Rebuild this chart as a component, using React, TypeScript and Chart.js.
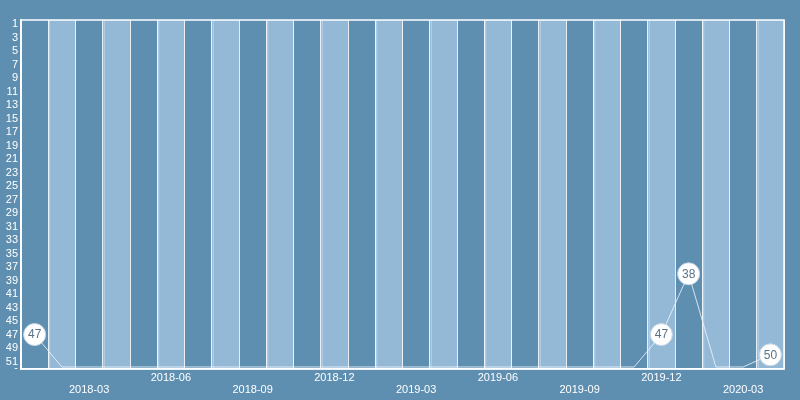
import React, { useEffect, useRef } from "react";
import { Chart, registerables } from "chart.js";

Chart.register(...registerables);

const months: string[] = [
  "2018-01", "2018-02", "2018-03", "2018-04", "2018-05", "2018-06",
  "2018-07", "2018-08", "2018-09", "2018-10", "2018-11", "2018-12",
  "2019-01", "2019-02", "2019-03", "2019-04", "2019-05", "2019-06",
  "2019-07", "2019-08", "2019-09", "2019-10", "2019-11", "2019-12",
  "2020-01", "2020-02", "2020-03", "2020-04",
];

// rank per month; null = not ranked (drawn on the "-" row)
const ranks: (number | null)[] = [
  47, null, null, null, null, null,
  null, null, null, null, null, null,
  null, null, null, null, null, null,
  null, null, null, null, null, 47,
  38, null, null, 50,
];

const shownMonths: string[] = [
  "2018-03", "2018-06", "2018-09", "2018-12", "2019-03",
  "2019-06", "2019-09", "2019-12", "2020-03",
];

const yTickValues: number[] = [
  1, 3, 5, 7, 9, 11, 13, 15, 17, 19, 21, 23, 25, 27, 29, 31, 33, 35,
  37, 39, 41, 43, 45, 47, 49, 51,
];
const UNRANKED_ROW = 52;
const UNRANKED_LINE = 51.8;

const BG = "#5e8fb1";
const LIGHT_COL = "#94b9d6";
const FONT = "'Liberation Sans', Arial, sans-serif";

export default function App() {
  const ref = useRef<HTMLCanvasElement | null>(null);

  useEffect(() => {
    if (!ref.current) return;
    const plotted = ranks.map((v) => (v === null ? UNRANKED_LINE : v));

    const bgPlugin = {
      id: "bands",
      beforeDraw(chart: any) {
        const { ctx, chartArea, scales } = chart;
        ctx.save();
        ctx.fillStyle = BG;
        ctx.fillRect(0, 0, chart.width, chart.height);
        const xs = scales.x;
        const n = months.length;
        const w = (chartArea.right - chartArea.left) / n;
        for (let i = 0; i < n; i++) {
          if (i % 2 === 1) {
            const cx = xs.getPixelForValue(i);
            ctx.fillStyle = LIGHT_COL;
            ctx.fillRect(cx - w / 2, chartArea.top, w, chartArea.bottom - chartArea.top);
            ctx.fillStyle = "#b6d2ea";
            ctx.fillRect(cx - w / 2 + 1, chartArea.top, 1, chartArea.bottom - chartArea.top);
          }
        }
        ctx.restore();
      },
      beforeDatasetsDraw(chart: any) {
        const { ctx, chartArea } = chart;
        ctx.save();
        ctx.strokeStyle = "#ffffff";
        ctx.lineWidth = 1.5;
        ctx.strokeRect(
          chartArea.left,
          chartArea.top,
          chartArea.right - chartArea.left,
          chartArea.bottom - chartArea.top
        );
        ctx.restore();
      },
      afterDatasetsDraw(chart: any) {
        const { ctx } = chart;
        const meta = chart.getDatasetMeta(0);
        ctx.save();
        meta.data.forEach((pt: any, i: number) => {
          const v = ranks[i];
          if (v === null) return;
          ctx.beginPath();
          ctx.arc(pt.x, pt.y, 11, 0, Math.PI * 2);
          ctx.fillStyle = "#ffffff";
          ctx.fill();
          ctx.lineWidth = 1;
          ctx.strokeStyle = "#c4d7e6";
          ctx.stroke();
          ctx.fillStyle = "#5a7288";
          ctx.font = "12px " + FONT;
          ctx.textAlign = "center";
          ctx.textBaseline = "middle";
          ctx.fillText(String(v), pt.x, pt.y + 0.5);
        });
        ctx.restore();
      },
    };

    const chart = new Chart(ref.current, {
      type: "line",
      data: {
        labels: months,
        datasets: [
          {
            data: plotted,
            borderColor: "rgba(235,242,248,0.85)",
            borderWidth: 1,
            pointRadius: 0,
            tension: 0,
            fill: false,
          },
        ],
      },
      options: {
        animation: false,
        responsive: false,
        maintainAspectRatio: false,
        layout: { padding: { left: 0, right: 16, top: 20, bottom: 0 } },
        plugins: {
          legend: { display: false },
          tooltip: { enabled: false },
        },
        scales: {
          x: {
            type: "category",
            offset: true,
            grid: {
              display: true,
              offset: true,
              color: "rgba(255,255,255,0.85)",
              lineWidth: 1,
              drawTicks: false,
            },
            border: { display: true, color: "#ffffff", width: 1.5 },
            ticks: {
              autoSkip: false,
              maxRotation: 0,
              minRotation: 0,
              padding: 3,
              color: "#ffffff",
              font: { family: FONT, size: 11, lineHeight: 1.1 },
              callback: (_v: any, i: number) => {
                const k = shownMonths.indexOf(months[i]);
                if (k < 0) return "";
                return k % 2 === 0 ? ["", months[i]] : [months[i]];
              },
            },
            afterFit: (s: any) => {
              s.height = 31;
            },
          },
          y: {
            type: "linear",
            reverse: true,
            min: 0.4,
            max: 52.1,
            grid: { display: false, drawTicks: false },
            border: { display: true, color: "#ffffff", width: 1.5 },
            afterBuildTicks: (s: any) => {
              s.ticks = [...yTickValues, UNRANKED_ROW].map((v) => ({ value: v }));
            },
            ticks: {
              autoSkip: false,
              padding: 3,
              color: "#ffffff",
              font: { family: FONT, size: 11 },
              callback: (v: any) => (Number(v) === UNRANKED_ROW ? "-" : String(v)),
            },
            afterFit: (s: any) => {
              s.width = 21;
            },
          },
        },
      },
      plugins: [bgPlugin],
    } as any);

    return () => chart.destroy();
  }, []);

  return (
    <div style={{ position: "fixed", left: 0, top: 0, width: 800, height: 400, background: BG }}>
      <canvas ref={ref} width={800} height={400} style={{ display: "block" }} />
    </div>
  );
}
